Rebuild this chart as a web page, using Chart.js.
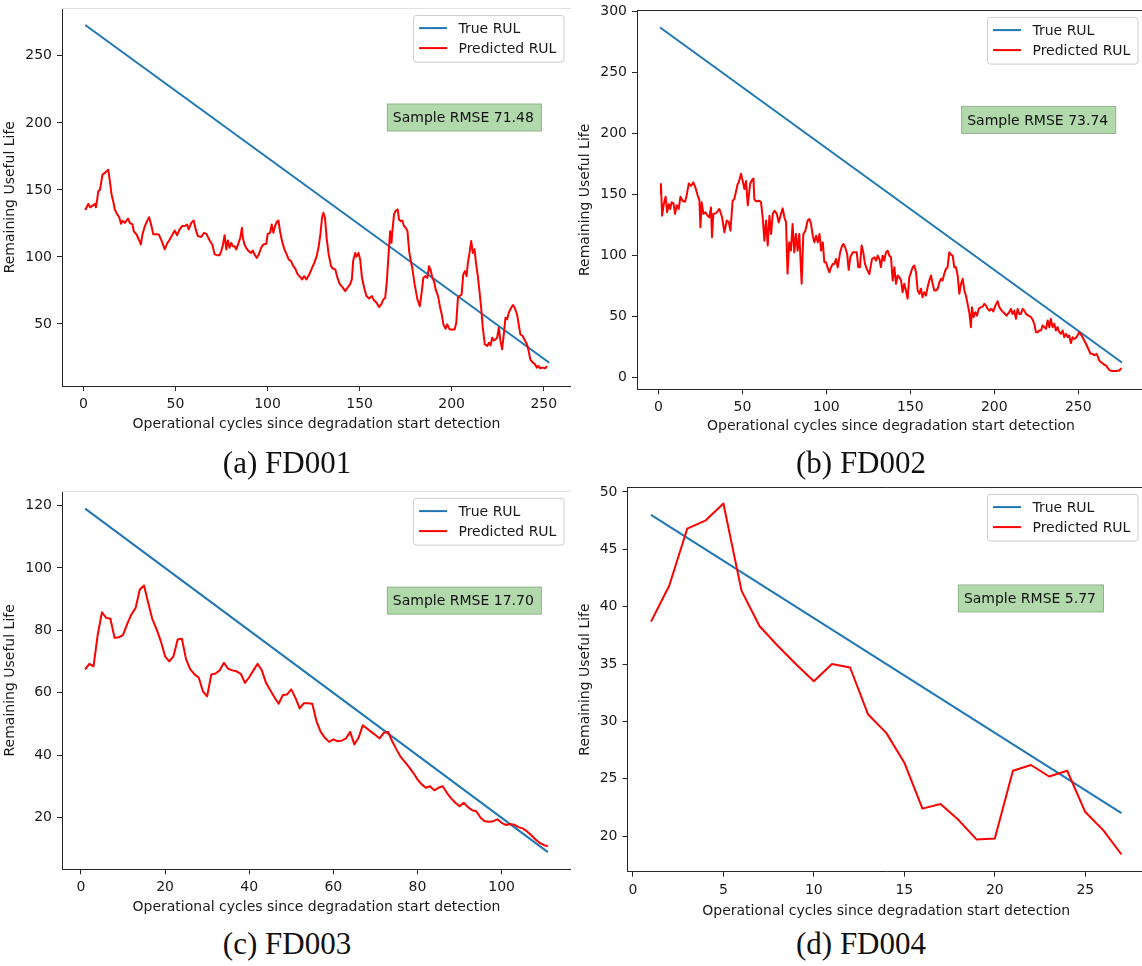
<!DOCTYPE html>
<html>
<head>
<meta charset="utf-8">
<title>RUL predictions</title>
<script src="https://cdn.jsdelivr.net/npm/chart.js@4.4.1/dist/chart.umd.min.js"></script>
<style>
  html, body { margin: 0; padding: 0; background: #fff; }
  body { position: relative; width: 1142px; height: 966px; overflow: hidden; }
  canvas { position: absolute; }
  .cap {
    position: absolute;
    font-family: "Liberation Serif", "DejaVu Serif", serif;
    font-size: 31px;
    color: #111;
    white-space: nowrap;
    transform: translate(-50%, -50%);
  }
</style>
</head>
<body>
<canvas id="fd001"></canvas>
<canvas id="fd002"></canvas>
<canvas id="fd003"></canvas>
<canvas id="fd004"></canvas>
<div class="cap" style="left:287px; top:463px;">(a) FD001</div>
<div class="cap" style="left:861px; top:463px;">(b) FD002</div>
<div class="cap" style="left:287px; top:944px;">(c) FD003</div>
<div class="cap" style="left:861px; top:944px;">(d) FD004</div>
<script>
// ---- data: [cycle, RUL] ----
const fd001XTicks = [0, 50, 100, 150, 200, 250];
const fd001YTicks = [50, 100, 150, 200, 250];
const fd001Rmse = '71.48';
const fd001True = [[1, 273], [253, 21]];
const fd001Pred = [
  [1,135],[2.7,139.6],[3.6,137],[5.4,138.6],[6.5,139.6],[6.8,137],[7.5,142.8],[8.1,149],[9,150],
  [10.4,161.5],[11.7,162.7],[13.5,165],[14.4,156.5],[15.3,146.6],[16.2,141.6],[17.1,135.4],[18.4,131.7],
  [19.5,129.6],[20.4,124.7],[21.3,127],[22.5,125.4],[23.4,127],[24.3,128.7],[25.2,125.4],[26.7,124.2],
  [27.4,119],[28.9,116.7],[30.1,113],[31.2,109.3],[32.1,116.7],[33.4,123],[34.6,126.7],[35.7,129.6],
  [37,123],[37.9,117],[39.7,117],[41,116.7],[42.4,112.3],[44.2,105.6],[45.4,109.8],[46.9,113],
  [48.4,116.7],[49.6,119.7],[50.9,116.2],[52.3,120.5],[53.6,123],[55,123],[56.3,124.2],[57.2,120.5],
  [58.6,125.4],[59.9,127.2],[61,120.5],[62.2,115.5],[64,114.8],[65.5,118],[66.8,117.2],[68.6,112.3],
  [70,109.3],[71.3,101.9],[72.5,101.3],[74,101.3],[74.9,104.3],[75.8,109.3],[76.7,116.2],[77.6,105.6],
  [78.5,112.3],[79.4,106.8],[80.3,110.5],[81.2,108],[82.1,108],[83,105.6],[84.3,110.5],[85.2,114.3],
  [86.1,121.7],[86.6,114.3],[87.5,109.3],[88.4,106.8],[89.7,104.3],[91.1,103],[92,104.8],[92.9,101.9],
  [94.2,99.3],[95.3,101.9],[96.5,106.8],[97.8,109.3],[99.3,109.8],[100.1,117.2],[101.4,118],[102.3,124.2],
  [103.2,118],[104.1,123],[105,126.2],[105.9,127.2],[106.8,119.2],[107.9,111.8],[109.2,105.6],[110.4,101.9],
  [111.5,98.1],[112.8,96.9],[113.7,93.9],[115,91.4],[116.4,87],[117.3,85.7],[118.8,83.2],[119.9,85.7],
  [121.1,83.2],[122.7,87],[124.2,91.9],[125.4,95.6],[126.7,100.6],[127.8,108],[128.7,116.8],[129.6,129.1],
  [130.3,132.9],[131.2,129.1],[132.1,114.2],[133.2,101.9],[134.5,93.1],[135.4,91.4],[136.8,90.7],[138,84.4],
  [139.3,79.5],[140.7,77.5],[142.2,74.5],[143.4,77],[144.8,79.5],[145.8,83.2],[146.5,96.9],[147.6,103],
  [148.3,100.1],[149.4,103],[150.3,98.1],[151.3,84.4],[152.5,77],[153.7,70.8],[155.2,69],[156.7,70.8],
  [157.7,67.8],[159.2,65.8],[160.6,62.6],[161.9,65],[162.9,68.3],[163.9,69.5],[164.8,82],[165.6,99.3],
  [166.6,119.2],[167.3,110.5],[167.8,119.2],[168.7,131.7],[169.7,134.6],[170.7,135.4],[171.4,127.9],
  [172.3,126.7],[173.2,127.2],[174.1,123],[175.1,121.7],[176,119.2],[176.9,104.3],[177.8,96.9],[178.6,91.9],
  [179.9,79.5],[181.4,68.3],[182.7,63.3],[183.8,74.5],[184.6,84.4],[185.9,85.7],[186.8,84.4],[187.7,93.1],
  [188.6,90],[189.5,84.4],[190.4,82],[191.3,75.8],[192.6,70.8],[193.6,63.3],[194.6,57.1],[195.5,49.7],
  [196.7,46.4],[197.6,49.7],[198.9,45.9],[200.4,45.9],[201.6,45.9],[202.5,50.9],[203.4,69.5],[204.3,70.8],
  [205.4,72],[206.3,87],[207.2,89.4],[208.1,85.7],[208.8,95.6],[209.7,103],[210.6,111.8],[211.5,103],
  [212.4,105.6],[213.3,94.4],[214.2,85.7],[215.1,74.5],[216,62.1],[216.9,47.2],[218,34.8],[219.3,33.5],
  [220.2,36],[221.1,34],[222,39.7],[222.9,37.7],[223.8,38.5],[224.7,39.7],[225.6,47.2],[226.5,37.3],
  [227.4,31.1],[228.3,42.2],[229.2,54.6],[230.1,53.4],[231,58.3],[232.3,62.1],[233.3,64.1],[234.2,62.1],
  [235.5,57.1],[236.4,49.7],[237.3,42.2],[238.6,41],[239.7,37.8],[240.9,34.8],[241.8,29.8],[242.7,23.6],
  [244,21.1],[245,20.4],[246.3,17.4],[247.2,18.6],[248.1,16.9],[249.3,17.4],[250.8,16.9],[251.7,18.6]
];

const fd002XTicks = [0, 50, 100, 150, 200, 250];
const fd002YTicks = [0, 50, 100, 150, 200, 250, 300];
const fd002Rmse = '73.74';
const fd002True = [[1, 287], [276, 12]];
const fd002Pred = [
  [1,151],[1.5,158.5],[2.2,132.5],[3.2,142],[4.3,148],[5.2,135.3],[6.2,142],[7,138],[7.9,143.5],[9,142.6],
  [9.9,134],[10.9,141],[12.1,138],[13.1,148],[14.5,144.6],[15.9,144],[16.8,149],[18.1,159],[19.4,157],
  [20.8,159.8],[22,155.8],[23.4,149],[24.4,145.3],[25,123],[25.8,143.5],[26.8,134],[28,135.3],[29.3,132.5],
  [30.3,131.2],[31.3,139.3],[31.9,114.8],[32.7,134],[34.3,134.5],[36.3,138],[37.9,131.2],[39.3,118.9],
  [40.7,128.5],[41.9,127.2],[42.9,120.2],[44.2,144.8],[45.2,146.1],[46.3,153],[47.2,158.5],[47.8,159.8],
  [49.2,167],[50.2,161],[51.2,154.4],[52.2,161],[53.2,141],[54.6,158.5],[55.8,162],[56.6,163],[57.1,146.2],
  [58.1,144.3],[60.1,144.8],[61.1,143.5],[62.1,131.2],[63.1,112],[64.1,128.5],[65.1,108],[66.1,132.5],
  [67.1,117.5],[68.1,134],[69.1,136.6],[70.5,134],[71.6,127],[73,134],[74,138.5],[75,131.2],[76,127],
  [76.9,84.8],[77.9,110.6],[78.9,103.8],[79.9,125.7],[80.9,102.4],[81.9,117.5],[82.9,103.8],[83.9,117.5],
  [85.3,76.6],[86.3,117.5],[87.5,120.2],[88.9,128.5],[89.9,129.8],[90.9,125.7],[91.9,116.1],[92.9,110.6],
  [93.9,116.1],[94.9,110.6],[95.9,117.5],[96.9,103.8],[97.9,110.6],[98.8,94.3],[99.8,94.3],[100.8,89.6],
  [101.8,86],[102.8,90],[103.8,92.9],[104.8,92.9],[105.8,97],[106.8,90],[108.2,102.4],[109.4,108],
  [110.2,109.3],[111.2,106.6],[112.4,101],[113.3,88],[114.3,98.4],[115.7,102.4],[117.1,102.4],[118.1,102.4],
  [119,90.2],[120,90.2],[121,108],[122,102.4],[123,93],[124,89],[125.6,84.5],[127.2,97],[128.6,98.4],
  [129.6,95.6],[130.6,99.7],[131.6,97],[132.5,90.2],[133.5,99.7],[134.5,95.6],[135.5,102.4],[136.5,103.8],
  [137.5,99.7],[138.5,98.4],[139.5,79.3],[140.5,90.2],[141.5,76.6],[142.5,83.4],[143.5,82],[144.5,79.3],
  [145.4,69.7],[146.4,76.6],[147.4,71.1],[148.4,64.3],[149.4,82],[150.4,86],[151.4,90.2],[152.4,91.6],
  [153.4,86],[154.4,71.1],[155.4,68.4],[156.3,72.5],[157.3,65.6],[158.3,69.7],[159.3,67],[160.3,73.8],
  [161.3,79.3],[162.3,83.4],[163.3,76.6],[164.3,71.1],[165.3,71.1],[166.3,72.5],[167.3,77.9],[168.3,80.7],
  [169.2,79.3],[170.2,84.7],[171.2,88.8],[172.2,90.2],[173.2,102.4],[174.2,100.6],[175.2,99.7],[176.2,90.2],
  [177.2,90.2],[178.2,83.4],[179.2,68.4],[180.2,76.6],[181.2,80.7],[182.2,71.1],[183.1,67],[184.1,60.2],
  [185.1,53.3],[186.1,41],[186.7,57.4],[187.7,49.2],[188.7,53.3],[189.7,50.5],[190.7,56],[192.1,57.4],
  [193.1,57.9],[194.1,60.1],[195.1,58.7],[196.1,56],[197.1,54.6],[198.4,56],[199.4,54],[200.6,58.7],
  [202,62.3],[203,57.4],[204.4,54.6],[206,52.4],[207.3,50.5],[208.9,53.3],[209.9,56],[210.9,51.9],
  [211.9,54.6],[212.9,47.8],[213.9,56],[214.9,51.9],[215.9,51.9],[216.9,56],[217.9,54.6],[218.9,51.9],
  [220.3,50.5],[221.9,49.2],[222.9,47],[223.8,43.8],[224.8,36.9],[225.8,36.9],[226.8,38.2],[227.8,38.2],
  [228.8,42.4],[229.8,41],[230.8,39.6],[231.8,46.5],[232.8,41],[233.7,47.8],[234.7,41],[235.7,43.8],
  [236.7,38.2],[237.7,41],[238.7,36.9],[239.7,35.5],[240.7,38.2],[241.7,32.8],[242.7,35.5],[243.7,32.8],
  [244.6,34.2],[245.6,27.9],[246.6,32.8],[247.6,31.4],[248.6,32.2],[249.6,34.2],[250.6,36.9],[252,34.2],
  [253.6,30.1],[254.6,27.4],[256,23.3],[257.2,19.2],[258.5,19.2],[259.5,17.9],[260.9,19.2],[262.5,13.7],
  [263.5,12.3],[264.5,11.4],[265.5,10.1],[266.5,9.6],[267.9,6.9],[268.9,5.5],[270.5,5],[272.5,5],
  [274.5,5.5],[275.8,7.4]
];

const fd003XTicks = [0, 20, 40, 60, 80, 100];
const fd003YTicks = [20, 40, 60, 80, 100, 120];
const fd003Rmse = '17.70';
const fd003True = [[1, 119], [111, 9]];
// one prediction per cycle, cycles 1..111
const fd003Pred = [
  67.5,69.3,68.5,78.7,85.8,84,83.7,77.6,77.8,78.5,82.1,85.1,87.2,93.1,94.4,88.8,83.5,80.3,76.5,71.7,
  70.1,71.7,77.1,77.3,70.7,67.5,65.9,64.9,60.5,58.9,65.9,66.2,67.2,69.6,67.7,67.2,66.9,66.1,63.2,65,
  67.2,69.3,67.2,63.2,60.8,58.6,56.5,59.3,59.5,61.1,58.4,55,56.7,56.7,56.5,50.9,47.5,45.6,44.3,45.1,
  44.5,44.7,45.4,47.5,43.5,45.6,49.6,48.6,47.5,46.5,45.4,47.2,47.5,44.5,41.9,39.5,37.9,36.2,34.4,32.3,
  30.7,29.6,30.1,28.8,29.6,30.1,28,26.2,24.8,23.7,24.8,23.4,22.4,22.1,20,18.9,18.7,18.9,19.5,18.4,
  17.7,18,17.8,17,16.6,15.7,14.5,13.1,12,11.3,10.9
];

const fd004XTicks = [0, 5, 10, 15, 20, 25];
const fd004YTicks = [20, 25, 30, 35, 40, 45, 50];
const fd004Rmse = '5.77';
const fd004True = [[1, 48], [27, 22]];
// one prediction per cycle, cycles 1..27
const fd004Pred = [
  38.7,41.8,46.8,47.5,49,41.4,38.3,36.6,35,33.5,35,34.7,30.6,29,26.4,22.4,22.8,21.4,19.7,19.8,
  25.7,26.2,25.2,25.7,22.1,20.5,18.4
];

// ---- page placement of each panel ----
const frames = {
  fd001: { left: 2, top: -5, width: 569, height: 438, padTop: 12, yAxisWidth: 60, xAxisHeight: 47,
           xMin: -11.6, xMax: 264.8, yMin: 3.7, yMax: 285.4, topSpine: '#e2e2e2' },
  fd002: { left: 577, top: -3, width: 568, height: 438, padTop: 12.5, yAxisWidth: 60, xAxisHeight: 45.7,
           xMin: -12.75, xMax: 289.75, yMin: -10, yMax: 301, topSpine: '#262626' },
  fd003: { left: 2, top: 478, width: 569, height: 438, padTop: 12, yAxisWidth: 60, xAxisHeight: 46.7,
           xMin: -4.5, xMax: 116.5, yMin: 3.5, yMax: 124.5, topSpine: '#e2e2e2' },
  fd004: { left: 577, top: 474, width: 568, height: 446, padTop: 12.4, yAxisWidth: 50.5, xAxisHeight: 48.3,
           xMin: -0.3, xMax: 28.3, yMin: 16.9, yMax: 50.4, topSpine: '#262626' }
};

Chart.defaults.font.family = '"DejaVu Sans", sans-serif';
Chart.defaults.font.size = 14;
Chart.defaults.color = '#1a1a1a';

const axisColor = '#262626';

// frame line, RMSE note and legend drawn inside the plot area
const insetBoxes = {
  id: 'insetBoxes',
  afterDatasetsDraw(chart, args, opts) {
    const ctx = chart.ctx;
    const a = chart.chartArea;
    const w = a.right - a.left, h = a.bottom - a.top;
    ctx.save();

    ctx.lineWidth = 1;
    ctx.strokeStyle = opts.topSpine;
    ctx.beginPath();
    ctx.moveTo(a.left, Math.round(a.top) + 0.5);
    ctx.lineTo(a.right, Math.round(a.top) + 0.5);
    ctx.stroke();

    ctx.font = '14px "DejaVu Sans"';
    ctx.textBaseline = 'middle';
    ctx.textAlign = 'left';

    const note = 'Sample RMSE ' + opts.rmse;
    const tx = a.left + 0.65 * w;
    const ty = a.bottom - 0.711 * h;
    const tw = ctx.measureText(note).width;
    ctx.fillStyle = '#b1d9ab';
    ctx.fillRect(tx - 5.5, ty - 13.5, tw + 13, 27);
    ctx.strokeStyle = '#8fb38a';
    ctx.strokeRect(tx - 5.5, ty - 13.5, tw + 13, 27);
    ctx.fillStyle = '#111';
    ctx.fillText(note, tx, ty + 1);

    const sets = chart.data.datasets;
    const textW = Math.max(...sets.map(d => ctx.measureText(d.label).width));
    const bw = 5.6 + 28 + 11.2 + textW + 7.8;
    const bh = 46.7;
    const bx = a.right - 7 - bw;
    const by = a.top + 7;
    ctx.beginPath();
    ctx.roundRect(bx, by, bw, bh, 3);
    ctx.fillStyle = 'rgba(255,255,255,0.8)';
    ctx.fill();
    ctx.strokeStyle = '#cccccc';
    ctx.stroke();
    sets.forEach((d, i) => {
      const ry = by + 12.7 + i * 20;
      ctx.strokeStyle = d.borderColor;
      ctx.lineWidth = 2;
      ctx.beginPath();
      ctx.moveTo(bx + 5.6, ry);
      ctx.lineTo(bx + 33.6, ry);
      ctx.stroke();
      ctx.fillStyle = '#1a1a1a';
      ctx.fillText(d.label, bx + 45, ry + 1);
    });
    ctx.restore();
  }
};

function toPoints(pairs) {
  return pairs.map(p => ({ x: p[0], y: p[1] }));
}

function perCycle(values) {
  return values.map((v, i) => ({ x: i + 1, y: v }));
}

function axisOptions(ticks, min, max, title, fit) {
  return {
    type: 'linear',
    min: min,
    max: max,
    afterFit: fit,
    afterBuildTicks: s => { s.ticks = ticks.map(v => ({ value: v })); },
    grid: { display: true, drawOnChartArea: false, drawTicks: true, tickLength: 5, tickColor: axisColor },
    border: { display: true, color: axisColor, width: 1 },
    ticks: { padding: 5, maxRotation: 0, autoSkip: false, color: '#1a1a1a', callback: v => String(v) },
    title: { display: true, text: title, padding: 0, color: '#1a1a1a' }
  };
}

function drawPanel(id, trueRul, pred, xTicks, yTicks, rmse) {
  const f = frames[id];
  const canvas = document.getElementById(id);
  canvas.width = f.width;
  canvas.height = f.height;
  canvas.style.left = f.left + 'px';
  canvas.style.top = f.top + 'px';
  canvas.style.width = f.width + 'px';
  canvas.style.height = f.height + 'px';

  new Chart(canvas, {
    type: 'line',
    data: {
      datasets: [
        { label: 'True RUL', data: trueRul, borderColor: '#1f77b4', borderWidth: 2,
          pointRadius: 0, order: 2, borderJoinStyle: 'round' },
        { label: 'Predicted RUL', data: pred, borderColor: '#ff0000', borderWidth: 2,
          pointRadius: 0, order: 1, borderJoinStyle: 'round' }
      ]
    },
    options: {
      responsive: false,
      animation: false,
      devicePixelRatio: 1,
      layout: { padding: { top: f.padTop, left: 0, right: 0, bottom: 0 } },
      plugins: {
        legend: { display: false },
        tooltip: { enabled: false },
        insetBoxes: { rmse: rmse, topSpine: f.topSpine }
      },
      scales: {
        x: axisOptions(xTicks, f.xMin, f.xMax, 'Operational cycles since degradation start detection',
                       s => { s.height = f.xAxisHeight; }),
        y: axisOptions(yTicks, f.yMin, f.yMax, 'Remaining Useful Life',
                       s => { s.width = f.yAxisWidth; })
      }
    },
    plugins: [insetBoxes]
  });
}

drawPanel('fd001', toPoints(fd001True), toPoints(fd001Pred), fd001XTicks, fd001YTicks, fd001Rmse);
drawPanel('fd002', toPoints(fd002True), toPoints(fd002Pred), fd002XTicks, fd002YTicks, fd002Rmse);
drawPanel('fd003', toPoints(fd003True), perCycle(fd003Pred), fd003XTicks, fd003YTicks, fd003Rmse);
drawPanel('fd004', toPoints(fd004True), perCycle(fd004Pred), fd004XTicks, fd004YTicks, fd004Rmse);
</script>
</body>
</html>
